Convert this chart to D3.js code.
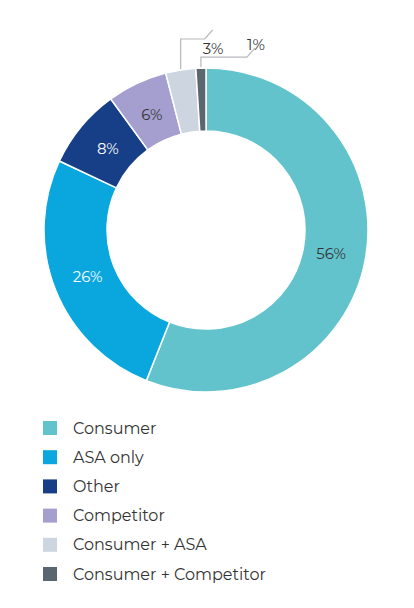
<!DOCTYPE html>
<html><head><meta charset="utf-8">
<script src="https://cdn.jsdelivr.net/npm/d3@7"></script>
<style>body{margin:0;background:#fff}text{font-family:"Montserrat","Noto Sans",sans-serif}</style>
</head><body><svg id="c" width="414" height="608"></svg>
<script>
const categories=["Consumer","ASA only","Other","Competitor","Consumer + ASA","Consumer + Competitor"];
const values=[56,26,8,6,3,1];
const colors=["#62c3cc","#0aa7df","#163f87","#a59fd0","#ccd5e0","#5a6670"];
const labelColors=["#333","#fff","#fff","#333","#333","#333"];
const svg=d3.select("#c");
const cx=206,cy=230,R=162,r=99;
const g=svg.append("g").attr("transform",`translate(${cx},${cy})`);
const pie=d3.pie().sort(null).value(d=>d)(values);
const arc=d3.arc().innerRadius(r).outerRadius(R);
g.selectAll("path").data(pie).join("path").attr("d",arc)
 .attr("fill",(d,i)=>colors[i]).attr("stroke","#fff").attr("stroke-width",1.5);
const inside=d3.arc().innerRadius(r+(R-r)*0.45).outerRadius(r+(R-r)*0.45);
pie.forEach((d,i)=>{
  if(i<4){
    const [x,y]=inside.centroid(d);
    g.append("text").attr("x",x).attr("y",y).attr("text-anchor","middle").attr("dominant-baseline","central")
     .attr("font-size",15).attr("fill",labelColors[i]).text(values[i]+"%");
  }
});
// outside labels with elbow leader lines
const outs=[{i:4,up:30,run:24,lx:213,ly:48},{i:5,up:10,run:46,lx:256,ly:44}];
outs.forEach(o=>{
  const d=pie[o.i];const a=(d.startAength,(d.startAngle+d.endAngle)/2);
  const x0=R*Math.sin(a),y0=-R*Math.cos(a)-1;
  const pts=[[x0,y0],[x0,y0-o.up],[x0+o.run,y0-o.up],[x0+o.run+8,y0-o.up-9]];
  g.append("polyline").attr("points",pts.map(p=>p.join(",")).join(" "))
   .attr("fill","none").attr("stroke","#b5b8bc").attr("stroke-width",1.2);
  svg.append("text").attr("x",o.lx).attr("y",o.ly).attr("text-anchor","middle").attr("dominant-baseline","central")
   .attr("font-size",15).attr("fill","#333").text(values[o.i]+"%");
});
const leg=svg.append("g");
categories.forEach((c,i)=>{
  const y=428+i*29.2;
  leg.append("rect").attr("x",43).attr("y",y-7).attr("width",14).attr("height",14).attr("fill",colors[i]);
  leg.append("text").attr("x",73).attr("y",y).attr("dominant-baseline","central").attr("font-size",16).attr("fill","#333").text(c);
});
</script></body></html>
